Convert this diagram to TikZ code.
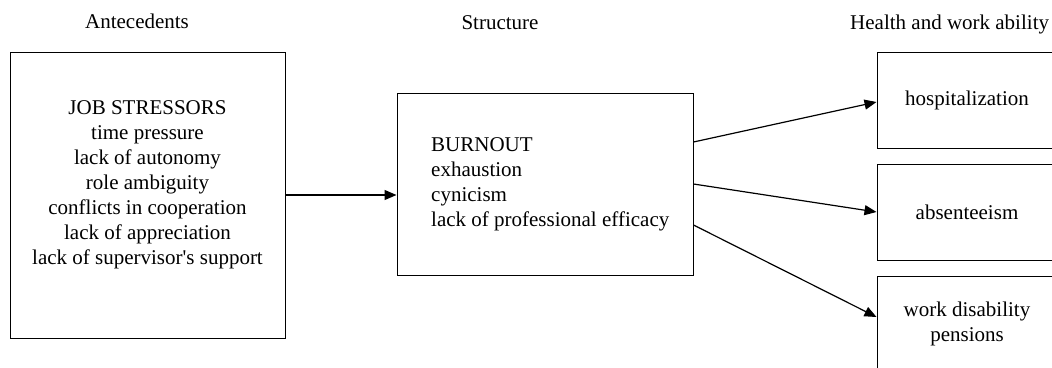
\documentclass[tikz,border=0pt]{standalone}
\usepackage{fontspec}
\setmainfont{Liberation Serif}
\usepackage{tikz}
\usetikzlibrary{arrows.meta}

\begin{document}
\begin{tikzpicture}[x=1pt,y=-1pt,
    box/.style={draw,line width=1pt,inner sep=0pt},
    txt/.style={inner sep=0pt,font=\fontsize{21}{25}\selectfont},
    arr/.style={line width=1.2pt,-{Triangle[length=12pt,width=10pt]}}]
    \clip (0,0) rectangle (1052,367);

    % 栏目标题
    \node[txt,anchor=base] (antec) at (137,28) {Antecedents};
    \node[txt,anchor=base] (struct) at (500,29) {Structure};
    \node[txt,anchor=base west] (health) at (850,29) {Health and work ability};

    % 左框与中框
    \node[box,minimum width=275pt,minimum height=286pt] (stress) at (147.5,195) {};
    \node[txt,align=center,anchor=north] (stresstxt) at (147.5,100)
        {JOB STRESSORS\\time pressure\\lack of autonomy\\role ambiguity\\conflicts in cooperation\\lack of appreciation\\lack of supervisor\textquotesingle s support};
    \node[box,minimum width=296pt,minimum height=182pt] (burnout) at (545,184) {};
    \node[txt,align=left,anchor=north west] (burnouttxt) at (431,137)
        {BURNOUT\\exhaustion\\cynicism\\lack of professional efficacy};

    % 右侧三个框
    \node[box,txt,minimum width=180pt,minimum height=96pt] (hosp) at (967,100) {hospitalization};
    \node[box,txt,minimum width=180pt,minimum height=96pt] (absent) at (967,212) {absenteeism};
    \node[box,txt,align=center,minimum width=180pt,minimum height=96pt] (pension) at (967,324)
        {work disability\\pensions};

    % 箭头
    \draw[arr] (stress.east) -- (stress.east -| burnout.west);
    \draw[arr] ([yshift=42pt]burnout.east) -- ([yshift=-2pt]hosp.west);
    \draw[arr] (burnout.east) -- (absent.west);
    \draw[arr] ([yshift=-41pt]burnout.east) -- ([yshift=7pt]pension.west);
\end{tikzpicture}
\end{document}
